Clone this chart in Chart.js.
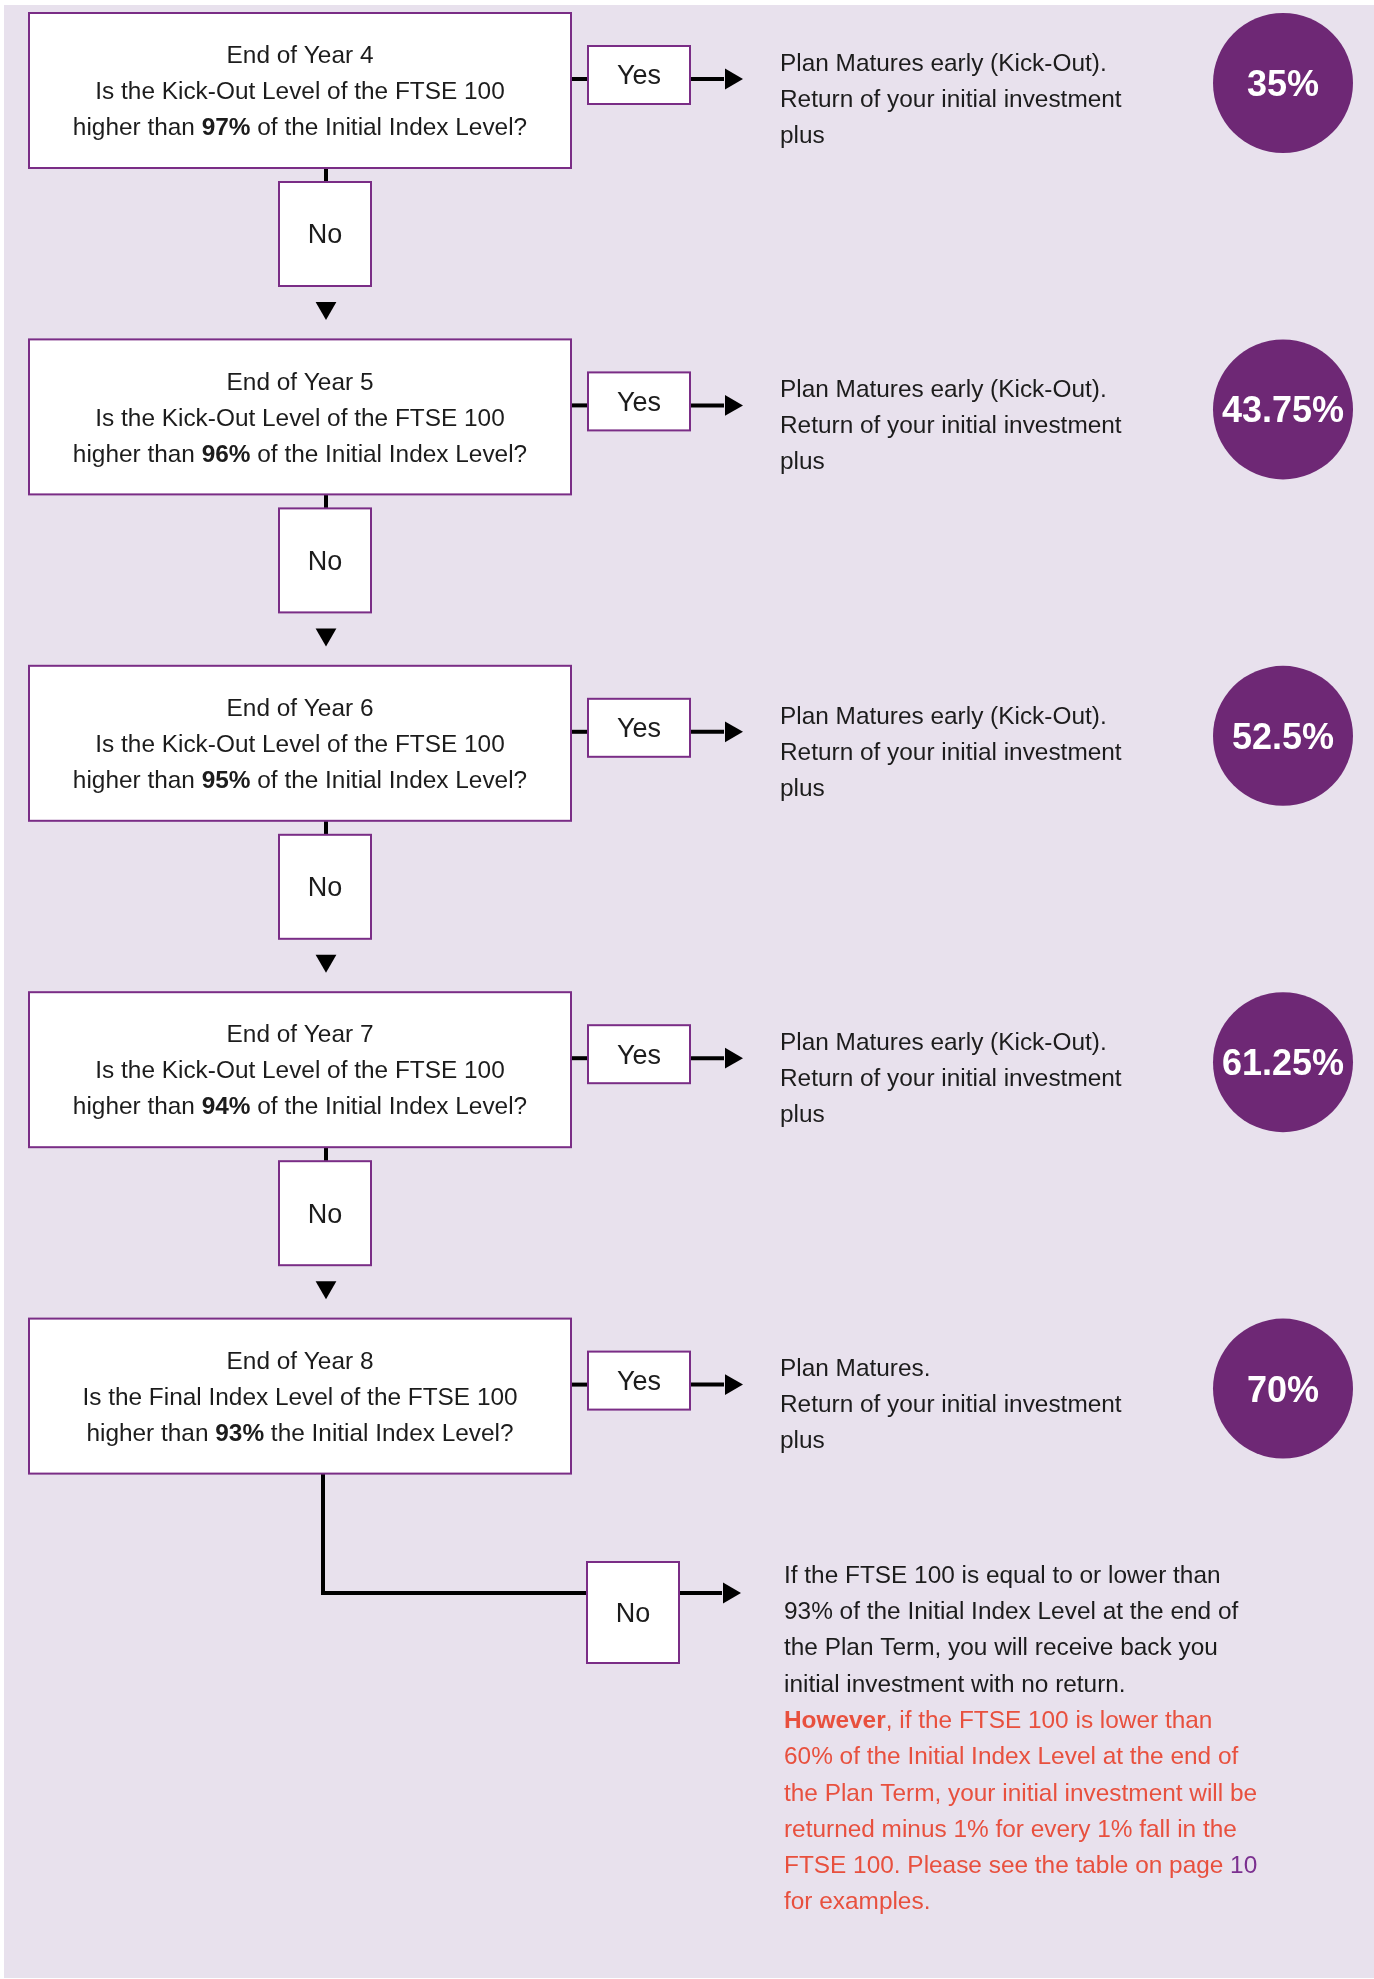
<!DOCTYPE html>
<html>
<head>
<meta charset="utf-8">
<script src="https://cdn.jsdelivr.net/npm/chart.js@4.4.1/dist/chart.umd.min.js"></script>
<style>
  html, body { margin: 0; padding: 0; background: #fff; overflow: hidden; }
  canvas { display: block; }
</style>
</head>
<body>
<canvas id="flowChart" width="1374" height="1979"></canvas>
<script>
// values
const years = [4, 5, 6, 7, 8];
const levelNames = ["Kick-Out", "Kick-Out", "Kick-Out", "Kick-Out", "Final Index"];
const thresholds = [97, 96, 95, 94, 93];
const returns = [35, 43.75, 52.5, 61.25, 70];
const outcomeTitles = [
  "Plan Matures early (Kick-Out).",
  "Plan Matures early (Kick-Out).",
  "Plan Matures early (Kick-Out).",
  "Plan Matures early (Kick-Out).",
  "Plan Matures."
];
const noReturnText = [
  "If the FTSE 100 is equal to or lower than",
  "93% of the Initial Index Level at the end of",
  "the Plan Term, you will receive back you",
  "initial investment with no return."
];
const lossText = [
  ", if the FTSE 100 is lower than",
  "60% of the Initial Index Level at the end of",
  "the Plan Term, your initial investment will be",
  "returned minus 1% for every 1% fall in the",
  "FTSE 100. Please see the table on page ",
  "for examples."
];

// layout (page units = pixels of the 1374 x 1979 page)
const W = 1374, H = 1979;
const ROW_TOP = 13, ROW_STEP = 326.4;
const rowTop = i => ROW_TOP + i * ROW_STEP;
const Q = { l: 29, r: 571, h: 155 };          // question box
const YES = { l: 588, r: 690, t: 33, b: 91 };  // yes box (relative to row top)
const NO = { l: 279, r: 371, t: 169, b: 273 }; // no box (relative)
const LINK_Y = 66, MID_X = 326;
const CIRCLE_X = 1283, CIRCLE_DY = 70, CIRCLE_R = 70;
const TEXT_X = 780;
const FONT = "'Liberation Sans', Arial, sans-serif";
const PURPLE = "#7a2d86";
const CIRCLE_FILL = "#6e2875";
const BG = "#e8e1ed";
const RED = "#e8503e";

const last = years.length - 1;
const finalNo = { l: 587, r: 679, t: 1562, b: 1663, y: 1593 };

// connector paths
const links = [];
years.forEach((y, i) => {
  const t = rowTop(i);
  links.push([[Q.r, t + LINK_Y], [YES.l, t + LINK_Y]]);
  links.push([[YES.r, t + LINK_Y], [724, t + LINK_Y]]);
  if (i < last) links.push([[MID_X, t + Q.h], [MID_X, t + NO.t]]);
});
links.push([[323, rowTop(last) + Q.h], [323, finalNo.y], [finalNo.l, finalNo.y]]);
links.push([[finalNo.r, finalNo.y], [722, finalNo.y]]);

const heads = [];
years.forEach((y, i) => {
  const t = rowTop(i);
  heads.push({ x: 731, y: t + LINK_Y, rot: 90 });
  if (i < last) heads.push({ x: MID_X, y: t + 295, rot: 180 });
});
heads.push({ x: 729, y: finalNo.y, rot: 90 });

const datasets = links.map(path => ({
  type: "line",
  data: path.map(p => ({ x: p[0], y: p[1] })),
  borderColor: "#000",
  borderWidth: 4,
  borderCapStyle: "butt",
  borderJoinStyle: "miter",
  pointRadius: 0,
  fill: false,
  order: 3
}));
datasets.push({
  type: "scatter",
  data: heads.map(h => ({ x: h.x, y: h.y })),
  pointStyle: "triangle",
  pointRadius: 12,
  pointRotation: heads.map(h => h.rot),
  backgroundColor: "#000",
  borderWidth: 0,
  order: 2
});
datasets.push({
  type: "bubble",
  data: returns.map((v, i) => ({ x: CIRCLE_X, y: rowTop(i) + CIRCLE_DY, r: CIRCLE_R, v })),
  backgroundColor: CIRCLE_FILL,
  borderWidth: 0,
  order: 1
});

function rich(ctx, parts, x, y, align, size) {
  const fontOf = p => (p.bold ? "bold " : "") + size + "px " + FONT;
  let total = 0;
  parts.forEach(p => { ctx.font = fontOf(p); total += ctx.measureText(p.t).width; });
  let cx = align === "center" ? x - total / 2 : x;
  ctx.textAlign = "left";
  ctx.textBaseline = "middle";
  parts.forEach(p => {
    ctx.font = fontOf(p);
    ctx.fillStyle = p.color || "#1c1c1c";
    ctx.fillText(p.t, cx, y);
    cx += ctx.measureText(p.t).width;
  });
}

function box(ctx, xs, ys, l, r, t, b) {
  const x0 = xs.getPixelForValue(l), x1 = xs.getPixelForValue(r);
  const y0 = ys.getPixelForValue(t), y1 = ys.getPixelForValue(b);
  ctx.fillStyle = "#fff";
  ctx.fillRect(x0, y0, x1 - x0, y1 - y0);
  ctx.strokeStyle = PURPLE;
  ctx.lineWidth = 2;
  ctx.strokeRect(x0, y0, x1 - x0, y1 - y0);
  return { cx: (x0 + x1) / 2, cy: (y0 + y1) / 2 };
}

const pagePlugin = {
  id: "page",
  beforeDraw(chart) {
    const { ctx } = chart;
    ctx.save();
    ctx.fillStyle = "#fff";
    ctx.fillRect(0, 0, W, H);
    ctx.fillStyle = BG;
    ctx.fillRect(4, 5, W - 4, H - 6);
    ctx.restore();
  },
  afterDatasetsDraw(chart) {
    const { ctx, scales: { x: xs, y: ys } } = chart;
    ctx.save();
    years.forEach((yr, i) => {
      const t = rowTop(i);
      const q = box(ctx, xs, ys, Q.l, Q.r, t, t + Q.h);
      rich(ctx, [{ t: "End of Year " + yr }], q.cx, q.cy - 34, "center", 24.4);
      rich(ctx, [{ t: "Is the " + levelNames[i] + " Level of the FTSE 100" }], q.cx, q.cy + 2, "center", 24.4);
      rich(ctx, [
        { t: "higher than " },
        { t: thresholds[i] + "%", bold: true },
        { t: (i < last ? " of" : "") + " the Initial Index Level?" }
      ], q.cx, q.cy + 38, "center", 24.4);

      const yb = box(ctx, xs, ys, YES.l, YES.r, t + YES.t, t + YES.b);
      rich(ctx, [{ t: "Yes" }], yb.cx, yb.cy + 2, "center", 27);
      if (i < last) {
        const nb = box(ctx, xs, ys, NO.l, NO.r, t + NO.t, t + NO.b);
        rich(ctx, [{ t: "No" }], nb.cx, nb.cy + 2, "center", 27);
      }

      const tx = xs.getPixelForValue(TEXT_X);
      const ty = ys.getPixelForValue(t + 51);
      rich(ctx, [{ t: outcomeTitles[i] }], tx, ty, "left", 24.4);
      rich(ctx, [{ t: "Return of your initial investment" }], tx, ty + 36, "left", 24.4);
      rich(ctx, [{ t: "plus" }], tx, ty + 72, "left", 24.4);

      const c = chart.getDatasetMeta(chart.data.datasets.length - 1).data[i];
      ctx.font = "bold 36px " + FONT;
      ctx.fillStyle = "#fff";
      ctx.textAlign = "center";
      ctx.textBaseline = "middle";
      ctx.fillText(returns[i] + "%", c.x, c.y + 3);
    });

    const fb = box(ctx, xs, ys, finalNo.l, finalNo.r, finalNo.t, finalNo.b);
    rich(ctx, [{ t: "No" }], fb.cx, fb.cy + 2, "center", 27);

    const px = xs.getPixelForValue(784);
    let py = ys.getPixelForValue(1576);
    const lh = 36.3;
    noReturnText.forEach(line => { rich(ctx, [{ t: line }], px, py, "left", 24.4); py += lh; });
    lossText.forEach((line, k) => {
      const parts = [{ t: line, color: RED }];
      if (k === 0) parts.unshift({ t: "However", bold: true, color: RED });
      if (k === 4) parts.push({ t: "10", color: "#7b3090" });
      rich(ctx, parts, px, py, "left", 24.4);
      py += lh;
    });
    ctx.restore();
  }
};

new Chart(document.getElementById("flowChart"), {
  data: { datasets },
  options: {
    responsive: false,
    devicePixelRatio: 1,
    animation: false,
    events: [],
    clip: false,
    layout: { padding: 0, autoPadding: false },
    plugins: { legend: { display: false }, tooltip: { enabled: false } },
    scales: {
      x: { type: "linear", min: 0, max: W, display: false },
      y: { type: "linear", min: 0, max: H, reverse: true, display: false }
    }
  },
  plugins: [pagePlugin]
});
</script>
</body>
</html>
